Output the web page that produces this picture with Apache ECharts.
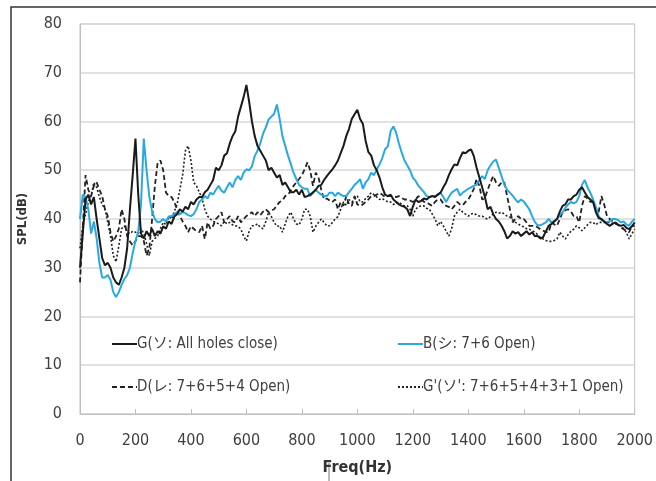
<!DOCTYPE html>
<html>
<head>
<meta charset="utf-8">
<script src="https://cdn.jsdelivr.net/npm/echarts@6/dist/echarts.min.js"></script>
<style>
html,body{margin:0;padding:0;background:#fff;}
#chart{width:656px;height:481px;}
</style>
</head>
<body>
<div id="chart"></div>
<script>
// Frequency sampling grid (Hz), 0..2000 every 10 Hz
const FREQ_START = 0, FREQ_STEP = 10, FREQ_COUNT = 201;
const xTicks = [0, 200, 400, 600, 800, 1000, 1200, 1400, 1600, 1800, 2000];
const yTicks = [0, 10, 20, 30, 40, 50, 60, 70, 80];

const seriesNames = [
  'G(ソ: All holes close)',
  'B(シ: 7+6 Open)',
  'D(レ: 7+6+5+4 Open)',
  "G'(ソ': 7+6+5+4+3+1 Open)"
];

// G (solid black)
const G = [
30,37,44,45,43,44.5,40,36,32,30.5,
31,30,28,27,26.5,28,30,34,42,49,
56.5,45,37,36,37.5,36.5,38,36.5,37.5,37,
38.5,38,39.5,39,40.5,41,42,41.5,42.5,42,
43.5,43,44,44.5,44.5,45.5,46,47,48,50.5,
50,51,53,53.5,55.5,57,58,61,63,65,
67.5,64,60,57,55,54,53,52,50,50.5,
49.5,48.5,49,47,47.5,46.5,45.5,45.5,46,45,
46,44.5,44.7,45,45.4,46,46.8,47,48,48.8,
49.5,50.2,51,52,53.5,55,57,58.5,60.5,61.5,
62.4,60.5,59.5,56,53.7,53,51,50,48.5,46.5,
45,44.7,45,44,43.5,43,42.7,42.5,42,40.6,
42.5,44,43.5,43.7,44.2,44,44.5,44.7,44.5,45,
45.4,46.5,47.5,49,50.2,51.2,51,52.5,53.7,53.5,
54,54.3,52.9,50.5,48.5,46.5,44.5,42,42.5,41,
40,39.5,38.6,37.5,36,36.5,37.5,37,37.3,36.5,
37,37.5,36.8,37.3,36.5,36.5,36,36.3,37.5,38.6,
39,39.5,40,41.5,42.7,43,44,44,44.7,45,
46,46.5,45.5,44.5,44,43.5,41.4,40.2,40,39.5,
39,38.6,39,39.3,38.8,38.6,38.8,38.2,37.9,38.5,
39.3];

// B (blue)
const B = [
40,45,44.5,42,37,39.5,36,31,28,28,
28.5,27.5,25,24,25,26.5,27.7,28.5,30,33,
35.5,37.5,43,56.5,50,44.6,41.5,40,39.3,39.5,
40,39.5,40.5,40.6,41,41.4,41,41.4,41.2,40.8,
40.6,41,42,43.5,44,44.7,44.2,45.4,45,46,
46.8,45.8,45.4,46.5,47.5,46.5,48,48.8,48,49.5,
50.2,50,50.8,52.9,54,55.5,57.5,58.8,60.4,61,
61.6,63.5,60.5,57,55,53,51.3,49.5,48.2,47,
46.5,46.2,46.2,44.7,45.5,46,45.4,45,44.7,44.7,
45.4,45.4,44.7,45.4,45,44.7,44.7,45.5,46.2,47,
47.5,48.2,46.2,47.5,48.2,49.5,49,50.2,51.2,52.5,
54.3,54.9,58,59,57.7,55.5,53.6,52,51,50,
48.5,47.8,46.8,46.2,45.5,44.7,44.5,44.7,44.7,45,
45.4,44.5,43.5,44.5,45.4,45.8,46.2,44.8,45.4,45.8,
46.2,46.5,46.8,47,48,48.8,48.2,50,51,51.8,
52.2,50.5,48.8,47,46,45.4,44.8,44,43.4,44,
43.6,42.8,42,40.6,39.4,38.7,38.7,39,39.3,40,
39.3,39.6,40,40.8,41.4,42.3,43,43.5,43.2,43.5,
44.7,47,48,46.5,45.4,44,42.5,40.6,39.8,39.5,
39.3,39.6,40,40,39.8,39.3,39.5,38.9,38.6,39.5,
40];

// D (dashed black)
const D = [
27,38,49,46,44.7,46.8,47.5,46,44.7,42,
40.6,37.3,35.4,36.5,38,42,40,36.5,35.4,34.6,
35.5,36.5,36.5,35.5,32.5,34,40,46.8,51.6,52,
50,45.4,44.7,44.5,43.5,42,40.6,39.5,38.6,37.3,
38.5,38,37.5,37.3,38.6,35.9,39.3,38,38.6,40,
40.6,41.4,39.3,40,40.6,39.5,39.3,40.6,39.3,40,
40.6,41,41.4,40.6,41.4,40.8,41.5,42,41.4,41.8,
42,42.8,43.5,43.8,44.7,45,45.8,46.8,47.5,48.2,
49,50.2,51.6,50,46.8,49.5,48.5,46,44,44.2,
43.8,43.5,44,42,43.5,42.7,44.7,43,42.7,44.7,
43,42.7,43,43.5,44,44.7,44.7,45,45.4,45,
44.5,44.7,44.7,44.7,44.5,44.7,44.3,44,44,43.8,
43.5,44,44.7,44.2,43.5,43.5,43,42.7,43.5,44,
44,43.2,42.7,42.5,42,42.7,43.5,43,42.8,43.5,
44,45,46.2,48.2,46.8,44,44.3,46,47.5,48.8,
47.5,46.8,47.5,47.5,44.7,42,39.3,40,40.6,40,
40,39.3,38.6,38.6,38.6,38.3,37.9,37.6,37.3,37.3,
39.3,38.9,38.6,40,41.4,41.8,42,41.5,40.6,40.6,
39.3,42.7,44.7,44.2,43.5,43.5,42,41.4,44.7,43,
40.6,40,39.5,39.3,38.8,38.3,37.9,37.6,37.3,38.5,
38.6];

// G' (dotted black)
const Gp = [
34,38.6,41,43.5,44.7,47.5,46.5,44.5,43,42,
39.3,36.5,32.5,31.2,34.5,38,38.6,37.3,37,37.5,
37.3,37,38,37,35,32.5,35.4,36,36.5,38,
39.3,38.8,40.5,40,41.5,43,46,49,54,55,
52,47.5,46.8,45.5,44.3,42,40.6,40,39.5,39.3,
39,38.6,39.5,39,39.3,38.8,38.6,38.5,37.9,36.5,
35.5,37.5,38.6,38.6,39,38.3,38,39.5,41.4,40.5,
39.3,38.5,38.6,37.3,39,40.6,41.4,40,39,38.8,
40,42,42,40.6,37.3,38.5,39.3,40,39.3,38.6,
38.6,39.3,40,40.5,42,43.5,42.8,44,43.5,44,
44.7,43.5,43.5,44.2,44.7,45.4,45,44.5,44,44.2,
43.8,43.5,43.5,43,43.2,43.5,43,42.7,42.7,42,
40.6,42,42.5,42.7,42.7,42.2,42,41,40,38.6,
39.5,38.6,37.5,36.5,38,40.6,41.4,42,41.4,41,
40.6,41,41.2,40.8,40.6,40.6,40.2,40,40.5,41,
41.4,41.2,41.4,41,40.6,40.4,39.8,39.3,39,38.6,
38.4,38,37.9,37.6,37.3,36.8,36.2,35.9,35.6,35.4,
35.4,35.6,35.9,37.3,36.5,35.9,36.8,37.5,37.9,38.6,
38.2,37.6,38.2,38.8,39.3,39.3,38.8,39.3,39.3,39.3,
39.3,39.3,39.1,39,38.8,38.6,38,37.3,35.9,37,
37.9];

const freqs = [];
for (let i = 0; i < FREQ_COUNT; i++) freqs.push(FREQ_START + i * FREQ_STEP);
const pairs = arr => arr.map((v, i) => [freqs[i], v]);

const FONT = "'DejaVu Sans Condensed', 'Noto Sans CJK JP', sans-serif";
const TXT = '#404040';

const chart = echarts.init(document.getElementById('chart'), null, {renderer: 'canvas'});
const lineBase = {type: 'line', symbol: 'none', showSymbol: false, animation: false, smooth: false};
const legendCommon = {
  orient: 'vertical', top: 329, itemWidth: 25, itemHeight: 14, itemGap: 23, selectedMode: false,
  itemStyle: {opacity: 0, borderWidth: 0},
  textStyle: {fontFamily: FONT, fontSize: 15, color: TXT, lineHeight: 20, padding: [0, 0, 0, -5]}
};

chart.setOption({
  backgroundColor: '#ffffff',
  animation: false,
  grid: {left: 80, top: 24, right: 18, bottom: 65, show: true, borderColor: '#c0c0c0', borderWidth: 1},
  xAxis: {
    type: 'value', min: xTicks[0], max: xTicks[xTicks.length - 1], interval: xTicks[1] - xTicks[0],
    name: 'Freq(Hz)', nameLocation: 'middle', nameGap: 46,
    nameTextStyle: {fontFamily: FONT, fontSize: 16, fontWeight: 'bold', color: '#333'},
    axisLine: {show: true, lineStyle: {color: '#bfbfbf', width: 1}},
    axisTick: {show: true, inside: true, length: 5, lineStyle: {color: '#bfbfbf'}},
    axisLabel: {fontFamily: FONT, fontSize: 16, color: TXT, margin: 19, formatter: v => String(v)},
    splitLine: {show: false}
  },
  yAxis: {
    type: 'value', min: yTicks[0], max: yTicks[yTicks.length - 1], interval: yTicks[1] - yTicks[0],
    name: 'SPL(dB)', nameLocation: 'middle', nameGap: 51, nameRotate: 90,
    nameTextStyle: {fontFamily: FONT, fontSize: 13, fontWeight: 'bold', color: '#333'},
    axisLine: {show: true, lineStyle: {color: '#bfbfbf', width: 1}},
    axisTick: {show: false},
    axisLabel: {fontFamily: FONT, fontSize: 16, color: TXT, margin: 18, formatter: v => String(v)},
    splitLine: {show: true, lineStyle: {color: '#d9d9d9', width: 1.5}}
  },
  legend: [
    Object.assign({}, legendCommon, {data: [seriesNames[0], seriesNames[2]], left: 106}),
    Object.assign({}, legendCommon, {data: [seriesNames[1], seriesNames[3]], left: 392})
  ],
  graphic: [
    {type: 'polyline', silent: true, shape: {points: [[11, 481], [11, 7], [656, 7]]},
     style: {stroke: '#333', lineWidth: 1.5, fill: null}},
    {type: 'line', silent: true, shape: {x1: 329, y1: 463, x2: 329, y2: 481},
     style: {stroke: '#777', lineWidth: 1}}
  ],
  series: [
    Object.assign({}, lineBase, {name: seriesNames[3], data: pairs(Gp), z: 2,
      lineStyle: {color: '#222', width: 1.6, type: [2, 2]}, itemStyle: {color: '#222'}}),
    Object.assign({}, lineBase, {name: seriesNames[2], data: pairs(D), z: 3,
      lineStyle: {color: '#222', width: 1.8, type: [5, 3]}, itemStyle: {color: '#222'}}),
    Object.assign({}, lineBase, {name: seriesNames[1], data: pairs(B), z: 4,
      lineStyle: {color: '#29a9e1', width: 2}, itemStyle: {color: '#29a9e1'}}),
    Object.assign({}, lineBase, {name: seriesNames[0], data: pairs(G), z: 5,
      lineStyle: {color: '#1a1a1a', width: 2}, itemStyle: {color: '#1a1a1a'}})
  ]
});
</script>
</body>
</html>
